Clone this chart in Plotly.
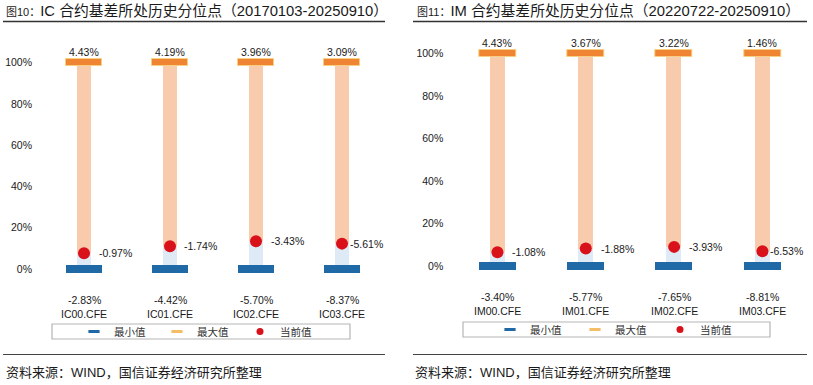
import plotly.graph_objects as go

W, H = 813, 385

# ---------------- data ----------------
ic_names = ["IC00.CFE", "IC01.CFE", "IC02.CFE", "IC03.CFE"]
ic_max_lbl = ["4.43%", "4.19%", "3.96%", "3.09%"]
ic_min_lbl = ["-2.83%", "-4.42%", "-5.70%", "-8.37%"]
ic_cur_lbl = ["-0.97%", "-1.74%", "-3.43%", "-5.61%"]
ic_cur_pct = [0.076, 0.110, 0.134, 0.123]

im_names = ["IM00.CFE", "IM01.CFE", "IM02.CFE", "IM03.CFE"]
im_max_lbl = ["4.43%", "3.67%", "3.22%", "1.46%"]
im_min_lbl = ["-3.40%", "-5.77%", "-7.65%", "-8.81%"]
im_cur_lbl = ["-1.08%", "-1.88%", "-3.93%", "-6.53%"]
im_cur_pct = [0.065, 0.082, 0.090, 0.069]

max_pct = [1.0, 1.0, 1.0, 1.0]
min_pct = [0.0, 0.0, 0.0, 0.0]
y_tickvals = [0, 0.2, 0.4, 0.6, 0.8, 1.0]

legend_names = ["最小值", "最大值", "当前值"]

ic_title_prefix = "图10："
ic_title = "IC 合约基差所处历史分位点（20170103-20250910）"
im_title_prefix = "图11："
im_title = "IM 合约基差所处历史分位点（20220722-20250910）"
source_text = "资料来源：WIND，国信证券经济研究所整理"

# ---------------- style ----------------
C_MIN = "#1F69A6"
C_MAX = "#EF8533"
C_MAX_EDGE = "#F6CF80"
C_UPPER = "#F8CBAD"
C_LOWER = "#DEEAF6"
C_CUR = "#D8111B"
TXT = "#1a1a1a"
FONT = "Liberation Sans, Arial, Noto Sans CJK SC, sans-serif"
CJK = "Noto Sans CJK SC, Liberation Sans, sans-serif"


def px(x):
    return x / W


def py(y):
    return 1 - y / H


PAD = 0.12
THICK = 0.036

panels = [
    dict(names=ic_names, maxl=ic_max_lbl, minl=ic_min_lbl, curl=ic_cur_lbl, cur=ic_cur_pct,
         x0=41, x1=385, y0=269, y1=62.75, xa="x", ya="y", legend="legend",
         stem=14 / 86, mark=36 / 86, cur_shift=[13, 12, 13, 6], tick_standoff=8,
         prefix=ic_title_prefix, title=ic_title, title_x=4, line=(3, 385),
         lbox=(52, 350, 324, 339), lx=74, ly=331.5, ew=38, src_x=4),
    dict(names=im_names, maxl=im_max_lbl, minl=im_min_lbl, curl=im_cur_lbl, cur=im_cur_pct,
         x0=453.3, x1=806.6, y0=266, y1=53.5, xa="x2", ya="y2", legend="legend2",
         stem=15 / 88.3, mark=37 / 88.3, cur_shift=[13, 13, 13, 6], tick_standoff=9,
         prefix=im_title_prefix, title=im_title, title_x=415, line=(413, 807),
         lbox=(463, 770, 322, 337), lx=490, ly=329.5, ew=40, src_x=413),
]

fig = go.Figure()
annotations = []
shapes = []
layout_axes = {}
legends = {}

for i, p in enumerate(panels):
    names = p["names"]
    L = p["y0"] - p["y1"]
    bot = p["y0"] + PAD * L
    top = p["y1"] - PAD * L
    xa, ya = p["xa"], p["ya"]
    xkey = "xaxis" if xa == "x" else "xaxis2"
    ykey = "yaxis" if ya == "y" else "yaxis2"
    layout_axes[xkey] = dict(domain=[px(p["x0"]), px(p["x1"])], type="category",
                             range=[-0.5, 3.5], showticklabels=False, showgrid=False,
                             zeroline=False, showline=False, anchor=ya, fixedrange=True)
    layout_axes[ykey] = dict(domain=[py(bot), py(top)], range=[-PAD, 1 + PAD],
                             tickvals=y_tickvals, tickformat=".0%", showgrid=False,
                             zeroline=False, showline=False, ticks="", anchor=xa,
                             ticklabelstandoff=p["tick_standoff"],
                             tickfont=dict(family=FONT, size=10.5, color=TXT), fixedrange=True)

    lower = [c - m for c, m in zip(p["cur"], min_pct)]
    upper = [M - c for M, c in zip(max_pct, p["cur"])]
    fig.add_trace(go.Bar(x=names, y=lower, base=min_pct, width=p["stem"], marker_color=C_LOWER,
                         marker_line_width=0, showlegend=False, xaxis=xa, yaxis=ya, hoverinfo="skip"))
    fig.add_trace(go.Bar(x=names, y=upper, base=p["cur"], width=p["stem"], marker_color=C_UPPER,
                         marker_line_width=0, showlegend=False, xaxis=xa, yaxis=ya, hoverinfo="skip"))
    fig.add_trace(go.Bar(x=names, y=[THICK] * 4, base=[m - THICK / 2 for m in min_pct],
                         width=p["mark"], marker_color=C_MIN, marker_line_width=0,
                         showlegend=False, xaxis=xa, yaxis=ya, name=legend_names[0]))
    fig.add_trace(go.Bar(x=names, y=[THICK] * 4, base=[m - THICK / 2 for m in max_pct],
                         width=p["mark"], marker_color=C_MAX,
                         marker_line=dict(color=C_MAX_EDGE, width=1),
                         showlegend=False, xaxis=xa, yaxis=ya, name=legend_names[1]))
    fig.add_trace(go.Scatter(x=names, y=p["cur"], mode="markers",
                             marker=dict(color=C_CUR, size=12, line=dict(width=0)),
                             showlegend=False, xaxis=xa, yaxis=ya, name=legend_names[2]))
    # legend entries
    fig.add_trace(go.Scatter(x=[None], y=[None], mode="markers", name=legend_names[0],
                             marker=dict(symbol="line-ew", size=8, line=dict(color=C_MIN, width=3)),
                             xaxis=xa, yaxis=ya, legend=p["legend"]))
    fig.add_trace(go.Scatter(x=[None], y=[None], mode="markers", name=legend_names[1],
                             marker=dict(symbol="line-ew", size=8, line=dict(color="#F4BE66", width=3)),
                             xaxis=xa, yaxis=ya, legend=p["legend"]))
    fig.add_trace(go.Scatter(x=[None], y=[None], mode="markers", name=legend_names[2],
                             marker=dict(symbol="circle", size=7, color=C_CUR),
                             xaxis=xa, yaxis=ya, legend=p["legend"]))

    fnt = dict(family=FONT, size=10.5, color=TXT)
    for j, n in enumerate(names):
        annotations.append(dict(x=n, y=max_pct[j], xref=xa, yref=ya, text=p["maxl"][j],
                                showarrow=False, yshift=10.5, font=fnt))
        annotations.append(dict(x=n, y=min_pct[j], xref=xa, yref=ya, text=p["minl"][j],
                                showarrow=False, yshift=-30.5, font=fnt))
        annotations.append(dict(x=n, y=min_pct[j], xref=xa, yref=ya, text=n,
                                showarrow=False, yshift=-44.5, font=fnt))
        annotations.append(dict(x=n, y=p["cur"][j], xref=xa, yref=ya, text=p["curl"][j],
                                showarrow=False, xanchor="left", xshift=p["cur_shift"][j],
                                font=fnt))

    # title
    annotations.append(dict(xref="paper", yref="paper", x=px(p["title_x"]), y=py(11.5),
                            xanchor="left", yanchor="middle", showarrow=False,
                            text=f"<span style='font-size:11px'>{p['prefix']}</span>{p['title']}",
                            font=dict(family=FONT, size=14.8, color=TXT)))
    # source
    annotations.append(dict(xref="paper", yref="paper", x=px(p["src_x"]), y=py(372),
                            xanchor="left", yanchor="middle", showarrow=False,
                            text=source_text, font=dict(family=FONT, size=13, color=TXT)))
    lx0, lx1 = p["line"]
    shapes.append(dict(type="line", xref="paper", yref="paper", x0=px(lx0), x1=px(lx1),
                       y0=py(21.5), y1=py(21.5), line=dict(color="#333333", width=1.5)))
    shapes.append(dict(type="line", xref="paper", yref="paper", x0=px(lx0), x1=px(lx1),
                       y0=py(354.5), y1=py(354.5), line=dict(color="#444444", width=1.2)))
    bx0, bx1, by0, by1 = p["lbox"]
    shapes.append(dict(type="rect", xref="paper", yref="paper", x0=px(bx0), x1=px(bx1),
                       y0=py(by1), y1=py(by0), line=dict(color="#B5B5B5", width=1.2)))

    legends[p["legend"]] = dict(orientation="h", xanchor="left", yanchor="middle",
                                x=px(p["lx"]), y=py(p["ly"]),
                                bgcolor="rgba(0,0,0,0)", borderwidth=0, entrywidth=p["ew"],
                                entrywidthmode="pixels", itemwidth=30,
                                font=dict(family=CJK, size=10.5, color="#333333"),
                                itemclick=False, itemdoubleclick=False)

fig.update_layout(
    width=W, height=H, autosize=False,
    margin=dict(l=0, r=0, t=0, b=0, autoexpand=False),
    paper_bgcolor="white", plot_bgcolor="white",
    barmode="overlay", bargap=0,
    showlegend=True,
    annotations=annotations, shapes=shapes,
    **legends,
    **layout_axes,
)

fig.write_html("out.html", config=dict(displayModeBar=False),
               post_script="document.body.style.margin='0';document.body.style.overflow='hidden';")
